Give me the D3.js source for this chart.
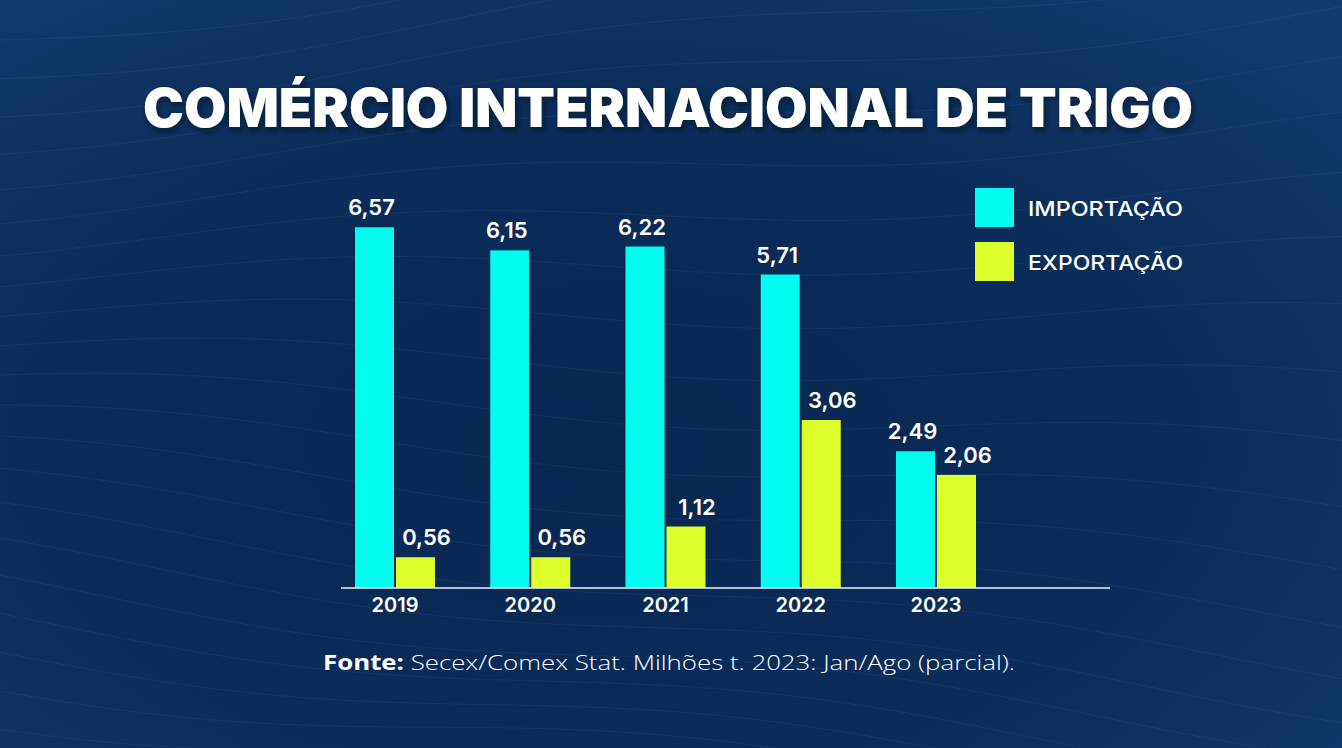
<!DOCTYPE html>
<html>
<head>
<meta charset="utf-8">
<script src="https://cdn.jsdelivr.net/npm/d3@7/dist/d3.min.js"></script>
<style>
  html, body { margin: 0; padding: 0; background: #0b2b57; }
  svg { display: block; }
</style>
</head>
<body>
<svg id="chart" width="1342" height="748"></svg>
<script>
// ---- data ----
const years = ["2019", "2020", "2021", "2022", "2023"];
const importacao = [6.57, 6.15, 6.22, 5.71, 2.49];
const exportacao = [0.56, 0.56, 1.12, 3.06, 2.06];
const seriesNames = ["IMPORTAÇÃO", "EXPORTAÇÃO"];
const seriesColors = ["#00fdf0", "#dcff2c"];
const titleText = "COMÉRCIO INTERNACIONAL DE TRIGO";
const sourceBold = "Fonte:";
const sourceText = " Secex/Comex Stat. Milhões t. 2023: Jan/Ago (parcial).";

const W = 1342, H = 748;
const svg = d3.select("#chart");
const defs = svg.append("defs");

// background
const rg = defs.append("radialGradient").attr("id", "bg")
  .attr("cx", "45%").attr("cy", "60%").attr("r", "75%");
rg.append("stop").attr("offset", "0%").attr("stop-color", "#092852");
rg.append("stop").attr("offset", "60%").attr("stop-color", "#0b2d5a");
rg.append("stop").attr("offset", "100%").attr("stop-color", "#123a6c");
svg.append("rect").attr("width", W).attr("height", H).attr("fill", "url(#bg)");

// faint decorative contour texture
const deco = svg.append("g").attr("fill", "none").attr("stroke", "#9fc3ff")
  .attr("stroke-opacity", 0.07).attr("stroke-width", 1);
const waveLine = d3.line().curve(d3.curveBasis);
for (let k = 0; k < 22; k++) {
  const pts = d3.range(0, 61).map(i => {
    const x = i * (W / 60);
    const y = 40 + k * 34 + 14 * Math.sin(i / 7 + k * 0.35) - 0.12 * x * Math.cos(k / 5);
    return [x, y];
  });
  deco.append("path").attr("d", waveLine(pts));
}

// title shadow
const f = defs.append("filter").attr("id", "shadow").attr("x", "-5%").attr("y", "-30%")
  .attr("width", "110%").attr("height", "160%");
f.append("feDropShadow").attr("dx", 2).attr("dy", 3).attr("stdDeviation", 3)
  .attr("flood-color", "#000814").attr("flood-opacity", 0.6);

svg.append("text")
  .attr("x", 143).attr("y", 127)
  .attr("textLength", 1050).attr("lengthAdjust", "spacingAndGlyphs")
  .attr("font-family", "Inter, 'Open Sans', sans-serif")
  .attr("font-weight", 900).attr("font-size", 54)
  .attr("fill", "#ffffff").attr("filter", "url(#shadow)")
  .text(titleText);

// scales
const x0 = d3.scaleBand().domain(years).range([355, 976])
  .paddingInner(0.4085).paddingOuter(0);
const x1 = d3.scaleBand().domain(seriesNames).range([0, x0.bandwidth()])
  .paddingInner(0.0488).paddingOuter(0);
const y = d3.scaleLinear().domain([0, 7]).range([588, 588 - 7 * 54.9]);

const rows = years.map((yr, i) => ({ year: yr, vals: [importacao[i], exportacao[i]] }));
const labelShift = [-3, 11];

const groups = svg.append("g").selectAll("g").data(rows).join("g")
  .attr("transform", d => `translate(${x0(d.year)},0)`);

groups.selectAll("rect").data(d => d.vals.map((v, j) => ({ v, j })))
  .join("rect")
  .attr("x", d => x1(seriesNames[d.j]))
  .attr("y", d => y(d.v))
  .attr("width", x1.bandwidth())
  .attr("height", d => y(0) - y(d.v))
  .attr("fill", d => seriesColors[d.j]);

groups.selectAll("text").data(d => d.vals.map((v, j) => ({ v, j })))
  .join("text")
  .attr("x", d => x1(seriesNames[d.j]) + x1.bandwidth() / 2 + labelShift[d.j])
  .attr("y", d => y(d.v) - 12)
  .attr("text-anchor", "middle")
  .attr("font-family", "Inter, 'Open Sans', sans-serif")
  .attr("font-weight", 600).attr("font-size", 22)
  .attr("fill", "#ffffff")
  .text(d => d3.format(".2f")(d.v).replace(".", ","));

// x axis
const xAxis = d3.axisBottom(x0).tickSize(0).tickPadding(10);
const ax = svg.append("g").attr("transform", `translate(0,${y(0)})`).call(xAxis);
ax.select(".domain").remove();
ax.append("line").attr("x1", 341).attr("x2", 1110).attr("y1", 0).attr("y2", 0)
  .attr("stroke", "#e8f2ff").attr("stroke-width", 1.6);
ax.selectAll(".tick text")
  .attr("font-family", "Inter, 'Open Sans', sans-serif")
  .attr("font-weight", 600).attr("font-size", 20)
  .attr("fill", "#ffffff").attr("dy", "0.71em").attr("y", 10);

// legend
const legend = svg.append("g").selectAll("g").data(seriesNames).join("g")
  .attr("transform", (d, i) => `translate(975,${188 + i * 54})`);
legend.append("rect").attr("width", 39).attr("height", 39)
  .attr("fill", (d, i) => seriesColors[i]);
legend.append("text").attr("x", 53).attr("y", 28)
  .attr("font-family", "Inter, 'Open Sans', sans-serif")
  .attr("font-weight", 500).attr("font-size", 20)
  .attr("textLength", 155).attr("lengthAdjust", "spacingAndGlyphs")
  .attr("fill", "#ffffff").text(d => d);

// source
const src = svg.append("text").attr("x", 323).attr("y", 670)
  .attr("font-family", "'Open Sans', Inter, sans-serif")
  .attr("font-size", 20.5).attr("fill", "#ffffff")
  .attr("textLength", 692).attr("lengthAdjust", "spacingAndGlyphs");
src.append("tspan").attr("font-weight", 700).text(sourceBold);
src.append("tspan").attr("font-weight", 300).text(sourceText);
</script>
</body>
</html>
